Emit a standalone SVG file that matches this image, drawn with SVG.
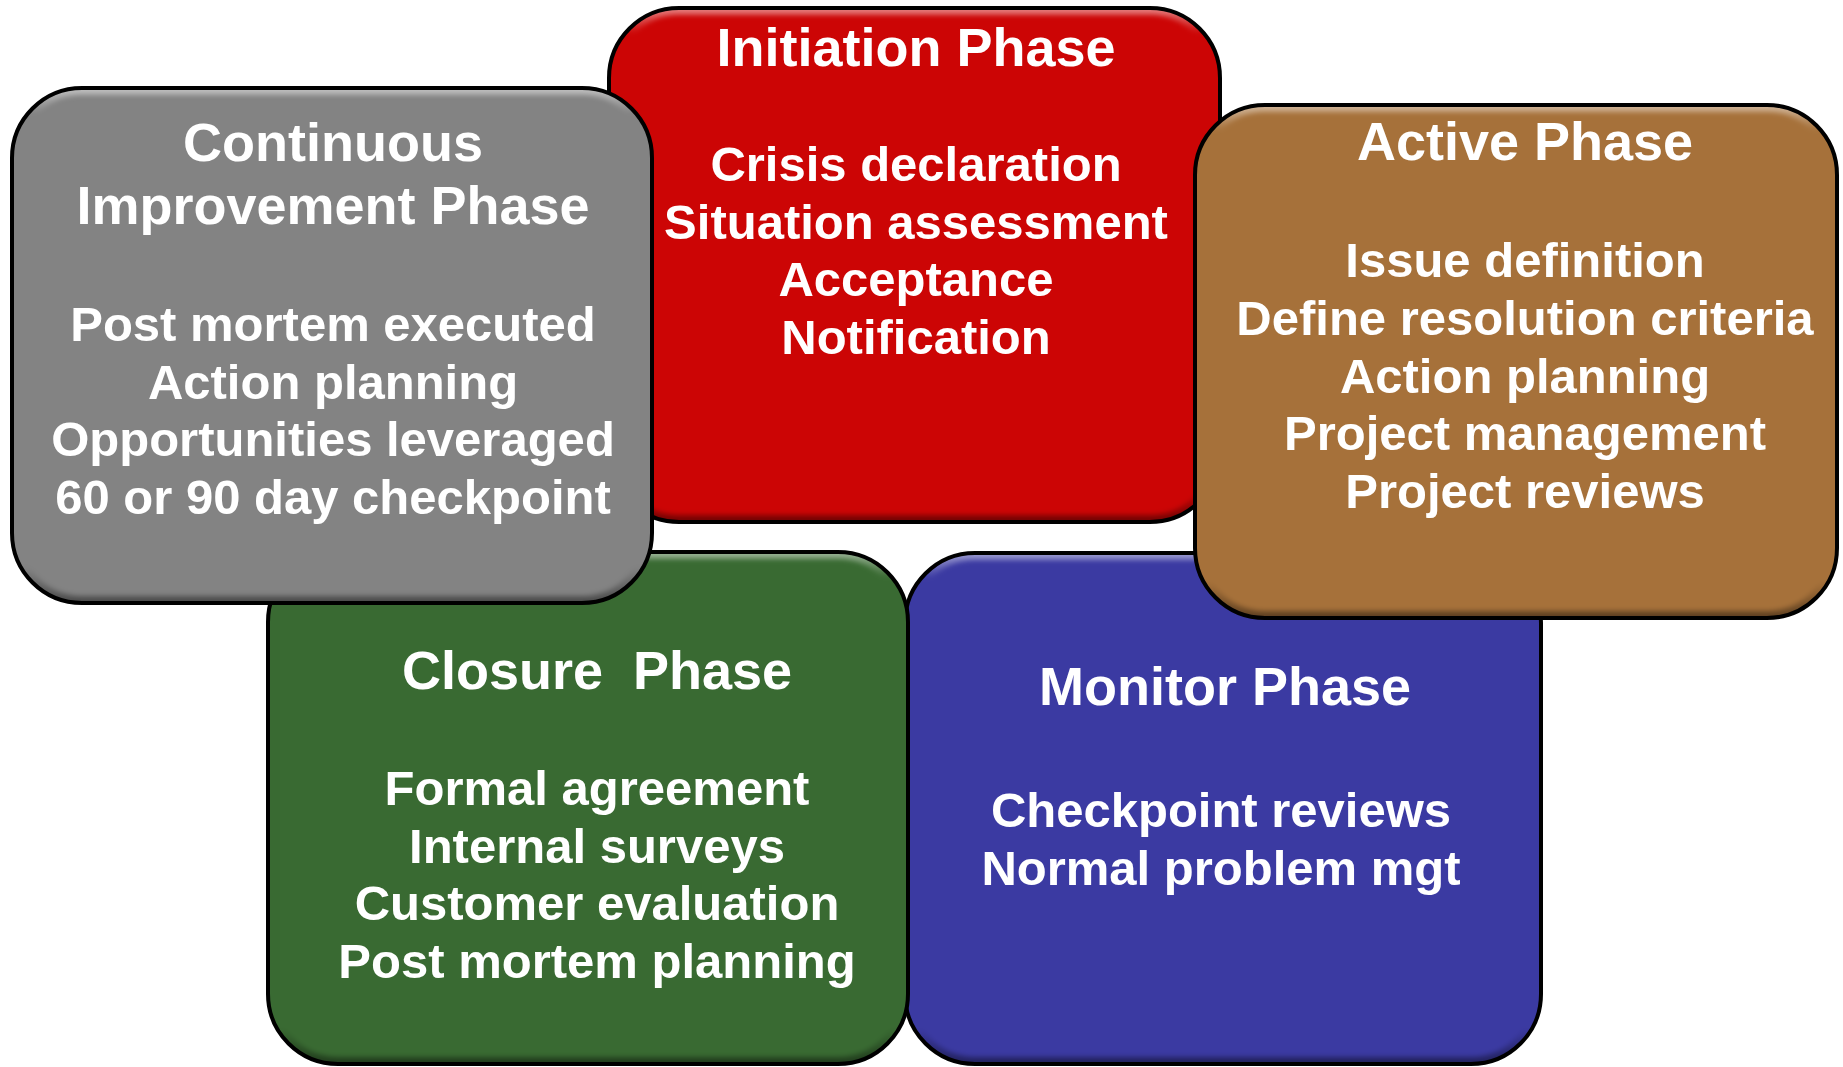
<svg xmlns="http://www.w3.org/2000/svg" width="1843" height="1067" viewBox="0 0 1843 1067">
  <style>
    .outline { fill: none; stroke: #000; stroke-width: 4; }
    .bevel { fill: none; stroke: url(#bevelGrad); stroke-width: 14; filter: url(#soft); }
    .title { font-family: "Liberation Sans", Arial, sans-serif; font-weight: bold; font-size: 54px; fill: #fff; text-anchor: middle; }
    .item { font-family: "Liberation Sans", Arial, sans-serif; font-weight: bold; font-size: 49px; fill: #fff; text-anchor: middle; }
  </style>
  <defs>
    <!-- light rim along the top, dark rim along the bottom -->
    <linearGradient id="bevelGrad" x1="0" y1="0" x2="0" y2="1">
      <stop offset="0" stop-color="#fff" stop-opacity="0.5"/>
      <stop offset="0.05" stop-color="#fff" stop-opacity="0"/>
      <stop offset="0.93" stop-color="#000" stop-opacity="0"/>
      <stop offset="1" stop-color="#000" stop-opacity="0.45"/>
    </linearGradient>
    <filter id="soft" x="-5%" y="-5%" width="110%" height="110%">
      <feGaussianBlur stdDeviation="2.5"/>
    </filter>

    <rect id="shapeInit" x="609" y="8" width="611" height="514" rx="70" ry="70"/>
    <rect id="shapeMon" x="905" y="553" width="636" height="511" rx="70" ry="70"/>
    <rect id="shapeClo" x="268" y="552" width="640" height="512" rx="70" ry="70"/>
    <rect id="shapeCont" x="12" y="88" width="640" height="515" rx="70" ry="70"/>
    <rect id="shapeAct" x="1195" y="105" width="642" height="513" rx="70" ry="70"/>

    <clipPath id="clipInit"><use href="#shapeInit"/></clipPath>
    <clipPath id="clipMon"><use href="#shapeMon"/></clipPath>
    <clipPath id="clipClo"><use href="#shapeClo"/></clipPath>
    <clipPath id="clipCont"><use href="#shapeCont"/></clipPath>
    <clipPath id="clipAct"><use href="#shapeAct"/></clipPath>
  </defs>

  <rect width="1843" height="1067" fill="#fff"/>

  <!-- Initiation -->
  <g id="initiation-phase">
    <use href="#shapeInit" fill="#CC0505"/>
    <g clip-path="url(#clipInit)"><use href="#shapeInit" class="bevel"/></g>
    <use href="#shapeInit" class="outline"/>
    <text class="title" x="916" y="66">Initiation Phase</text>
    <text class="item" x="916" y="181">Crisis declaration</text>
    <text class="item" x="916" y="239">Situation assessment</text>
    <text class="item" x="916" y="296">Acceptance</text>
    <text class="item" x="916" y="354">Notification</text>
  </g>

  <!-- Monitor -->
  <g id="monitor-phase">
    <use href="#shapeMon" fill="#3B3AA2"/>
    <g clip-path="url(#clipMon)"><use href="#shapeMon" class="bevel"/></g>
    <use href="#shapeMon" class="outline"/>
    <text class="title" x="1225" y="705">Monitor Phase</text>
    <text class="item" x="1221" y="827">Checkpoint reviews</text>
    <text class="item" x="1221" y="885">Normal problem mgt</text>
  </g>

  <!-- Closure -->
  <g id="closure-phase">
    <use href="#shapeClo" fill="#396A32"/>
    <g clip-path="url(#clipClo)"><use href="#shapeClo" class="bevel"/></g>
    <use href="#shapeClo" class="outline"/>
    <text class="title" x="597" y="689" xml:space="preserve">Closure  Phase</text>
    <text class="item" x="597" y="805">Formal agreement</text>
    <text class="item" x="597" y="863">Internal surveys</text>
    <text class="item" x="597" y="920">Customer evaluation</text>
    <text class="item" x="597" y="978">Post mortem planning</text>
  </g>

  <!-- Continuous Improvement -->
  <g id="continuous-improvement-phase">
    <use href="#shapeCont" fill="#838383"/>
    <g clip-path="url(#clipCont)"><use href="#shapeCont" class="bevel"/></g>
    <use href="#shapeCont" class="outline"/>
    <text class="title" x="333" y="161">Continuous</text>
    <text class="title" x="333" y="224">Improvement Phase</text>
    <text class="item" x="333" y="341">Post mortem executed</text>
    <text class="item" x="333" y="399">Action planning</text>
    <text class="item" x="333" y="456">Opportunities leveraged</text>
    <text class="item" x="333" y="514">60 or 90 day checkpoint</text>
  </g>

  <!-- Active -->
  <g id="active-phase">
    <use href="#shapeAct" fill="#A6713A"/>
    <g clip-path="url(#clipAct)"><use href="#shapeAct" class="bevel"/></g>
    <use href="#shapeAct" class="outline"/>
    <text class="title" x="1525" y="160">Active Phase</text>
    <text class="item" x="1525" y="277">Issue definition</text>
    <text class="item" x="1525" y="335">Define resolution criteria</text>
    <text class="item" x="1525" y="393">Action planning</text>
    <text class="item" x="1525" y="450">Project management</text>
    <text class="item" x="1525" y="508">Project reviews</text>
  </g>
</svg>
